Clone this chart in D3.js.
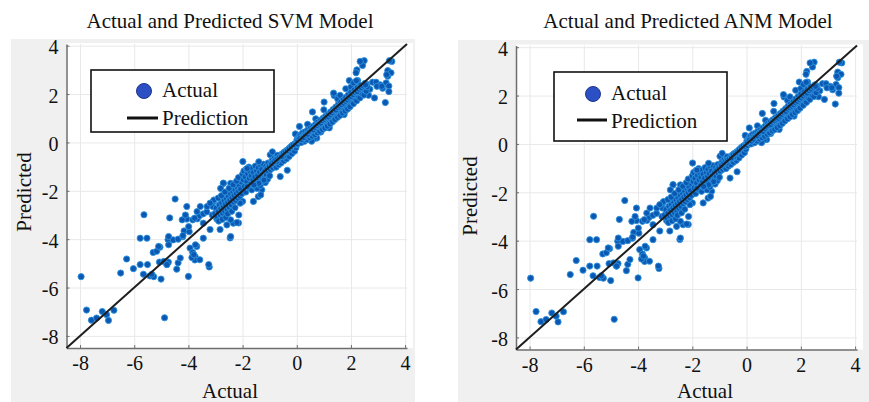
<!DOCTYPE html>
<html>
<head>
<meta charset="utf-8">
<script src="https://cdn.jsdelivr.net/npm/d3@7"></script>
<style>
  body { margin: 0; background: #fff; }
  text { font-family: "Liberation Serif", "Times New Roman", serif; fill: #111; }
</style>
</head>
<body>
<script>
// tick values shared by both axes
var tickValues = [-8, -6, -4, -2, 0, 2, 4];

var titles = ["Actual and Predicted SVM Model", "Actual and Predicted ANM Model"];
var legendLabels = ["Actual", "Prediction"];

// [actual, predicted] (both panels show the same cloud)
var outlierPoints = [
  [-7.96,-5.55],[-7.76,-6.93],[-7.58,-7.35],[-7.39,-7.26],[-7.18,-6.99],[-7.02,-7.12],[-6.95,-7.36],[-6.75,-6.94],[-4.88,-7.25],
  [-6.5,-5.4],[-6.28,-4.82],[-6.03,-5.22],[-5.78,-5.05],[-5.64,-2.99],[-5.78,-3.96],[-5.53,-3.96],[-5.66,-5.45],[-5.51,-5.05],
  [-5.42,-5.52],[-5.28,-5.55],[-5.3,-4.55],[-5.17,-4.5],[-5.05,-4.33],[-5.07,-4.95],[-5.35,-5.45],[-5.01,-5.65],[-4.8,-5.05],
  [-4.69,-3.12],[-4.75,-4.02],[-4.56,-4.03],[-4.38,-4.0],[-4.49,-2.34],[-4.43,-5.24],[-4.38,-4.98],[-4.74,-4.95],[-4.21,-3.9],
  [-4.16,-3.66],[-4.0,-5.54],[-4.06,-2.65],[-4.06,-3.17],[-3.97,-3.69],[-3.94,-4.37],[-3.84,-4.55],[-3.75,-4.72],[-3.76,-4.86],
  [-3.87,-4.76],[-3.69,-4.3],[-3.84,-3.2],[-3.67,-3.16],[-3.59,-3.03],[-3.45,-3.34],[-3.45,-3.96],[-3.23,-5.15],[-3.45,-2.95],
  [-3.32,-2.87],[-3.1,-2.65],[-2.95,-2.81],[-2.71,-1.7],[-3.08,-2.44],[-2.95,-3.17],[-3.2,-3.6],[-2.83,-3.6],[-2.58,-3.41],
  [-2.46,-3.95],[-2.34,-3.34],[-2.15,-3.33],[-1.99,-0.79],[-1.6,-2.44],[-2.0,-2.44],
  [-3.77,-3.13],[-3.68,-2.86],[-3.56,-2.65],[-3.31,-2.65],[-3.12,-3.0],[-3.06,-2.38],[-4.73,-3.89],[-4.2,-3.85],
  [-4.73,-4.23],[-5.1,-4.3],[-4.91,-4.92],[-4.79,-5.05],[-4.3,-4.78],[-3.74,-4.23],[-3.8,-4.64],[-3.58,-4.85],[-3.25,-5.05],
  [-4.23,-3.2],[-4.11,-3.0],[-3.99,-3.48],
  [-2.44,-1.69],[-2.81,-1.9],[-2.32,-2.31],[-2.14,-3.0],[-2.44,-3.2],[-2.44,-3.89],[-2.81,-2.86],[-2.21,-3.31],[-3.2,-2.51],
  [-2.71,-1.68],[-2.28,-2.09],[-2.09,-2.51],[-2.46,-2.65],[-1.29,-1.96],[-1.42,-2.24],[-1.33,-2.17],[-1.95,-2.04],
  [-0.61,-1.41],[-0.35,-1.15],[-0.98,-0.51],[-0.9,-0.39],[-1.48,-0.99],
  [0.1,0.66],[-0.05,0.35],[0.74,0.45],[0.74,0.18],[0.58,1.26],[0.7,0.98],[0.89,0.43],[0.64,0.16],[1.01,1.67],
  [1.38,1.94],[1.51,1.8],[1.36,2.04],[1.81,2.22],[2.0,2.29],[1.94,2.56],[2.25,2.56],[2.1,2.46],
  [2.49,3.38],[2.43,3.18],[2.22,3.0],[2.34,3.35],[3.36,2.97],[3.51,3.35],[3.42,3.38],[3.48,2.88],[3.36,2.74],[3.32,2.8],
  [3.3,2.46],[3.4,2.33],[3.4,2.1],[3.27,1.65],[2.87,1.84],[2.59,2.4],[2.8,2.49],[2.93,2.49],[3.09,2.38],[3.17,2.24],
  [2.96,2.32],[3.14,2.32],[2.19,2.88],
  [0.55,0.05],[1.2,0.6],[1.75,1.15],[0.4,0.75],[1.0,1.35],[1.6,1.95],[2.2,2.55],[2.7,2.2],[2.65,1.95]
];

var bandPoints = [
  [-3.02,-2.95],[-2.97,-2.72],[-2.93,-3.08],[-2.9,-2.86],[-2.86,-2.58],[-2.83,-2.98],[-2.8,-2.74],[-2.77,-2.5],[-2.74,-2.92],
  [-2.71,-2.66],[-2.68,-2.42],[-2.66,-2.84],[-2.63,-2.55],[-2.6,-2.31],[-2.57,-2.78],[-2.55,-2.47],[-2.52,-2.22],[-2.5,-2.66],
  [-2.47,-2.38],[-2.44,-2.12],[-2.42,-2.58],[-2.39,-2.29],[-2.36,-2.04],[-2.33,-2.47],[-2.31,-2.2],[-2.28,-1.96],[-2.26,-2.39],
  [-2.23,-2.11],[-2.2,-1.85],[-2.18,-2.3],[-2.15,-2.02],[-2.12,-1.76],[-2.1,-2.22],[-2.07,-1.93],[-2.05,-1.63],[-2.03,-2.12],
  [-2.88,-3.25],[-2.75,-3.18],[-2.62,-3.1],[-2.55,-2.95],[-2.4,-2.85],[-2.28,-2.7],[-2.9,-2.3],[-2.78,-2.2],[-2.65,-2.05],
  [-2.5,-1.9],[-2.35,-1.75],[-2.22,-1.6],[-2.15,-1.45],
  [-2.0,-1.32],[-1.97,-1.55],[-1.95,-1.18],[-1.93,-1.82],[-1.9,-1.42],[-1.88,-2.05],[-1.86,-1.1],[-1.84,-1.62],[-1.81,-1.3],
  [-1.79,-1.88],[-1.77,-1.02],[-1.75,-1.48],[-1.72,-1.2],[-1.7,-1.72],[-1.68,-1.38],[-1.66,-1.96],[-1.64,-1.08],[-1.62,-1.55],
  [-1.6,-1.25],[-1.57,-1.8],[-1.55,-1.42],[-1.53,-0.98],[-1.5,-1.62],[-1.48,-1.18],[-1.46,-1.9],[-1.44,-1.35],[-1.42,-1.05],
  [-1.4,-1.55],[-1.37,-1.22],[-1.35,-1.78],[-1.33,-0.95],[-1.31,-1.42],[-1.29,-1.12],[-1.27,-1.6],[-1.25,-1.3],[-1.23,-0.9],
  [-1.2,-1.48],[-1.18,-1.18],[-1.16,-1.66],[-1.14,-0.98],[-1.12,-1.35],[-1.1,-1.08],[-1.08,-1.52],[-1.06,-0.85],[-1.04,-1.22],
  [-1.02,-0.98],[-1.0,-1.38],[-1.21,-1.56],[-1.4,-1.69],[-1.58,-1.76],[-1.83,-1.83],[-1.83,-1.08],[-1.4,-0.8],
  [-0.97,-1.12],[-0.95,-0.82],[-0.93,-0.98],[-0.9,-0.72],[-0.88,-1.05],[-0.86,-0.88],[-0.83,-0.66],[-0.81,-0.95],[-0.79,-0.78],
  [-0.76,-1.02],[-0.74,-0.62],[-0.72,-0.86],[-0.69,-0.7],[-0.67,-0.92],[-0.65,-0.55],[-0.62,-0.78],[-0.6,-0.62],[-0.58,-0.85],
  [-0.55,-0.48],[-0.53,-0.7],[-0.5,-0.55],[-0.48,-0.76],[-0.46,-0.4],[-0.43,-0.62],[-0.41,-0.48],[-0.38,-0.68],[-0.36,-0.32],
  [-0.33,-0.52],[-0.31,-0.38],[-0.28,-0.58],[-0.26,-0.22],[-0.23,-0.42],[-0.21,-0.28],[-0.18,-0.46],[-0.16,-0.12],[-0.13,-0.32],
  [-0.11,-0.18],[-0.08,-0.36],[-0.06,-0.04],[-0.03,-0.22],[-0.01,-0.08],[-0.74,-0.79],[-0.49,-0.58],[-0.47,-0.53],[-0.72,-0.53],
  [-0.92,-0.88],[-0.84,-0.78],[-0.77,-0.7],[-0.7,-0.66],[-0.63,-0.6],[-0.56,-0.58],[-0.49,-0.44],[-0.42,-0.38],[-0.35,-0.34],
  [-0.28,-0.26],[-0.2,-0.16],[-0.13,-0.1],[-0.05,-0.1],
  [0.01,0.12],[0.03,-0.06],[0.06,0.2],[0.08,0.04],[0.1,0.28],[0.13,0.08],[0.15,0.32],[0.17,0.0],[0.2,0.22],[0.22,0.4],
  [0.24,0.1],[0.27,0.3],[0.29,0.05],[0.31,0.44],[0.34,0.2],[0.36,0.36],[0.38,0.12],[0.41,0.52],[0.43,0.28],[0.45,0.42],
  [0.48,0.2],[0.5,0.58],[0.52,0.34],[0.55,0.48],[0.57,0.26],[0.6,0.66],[0.62,0.4],[0.64,0.56],[0.67,0.32],[0.69,0.74],
  [0.71,0.48],[0.74,0.62],[0.76,0.4],[0.78,0.84],[0.81,0.55],[0.83,0.7],[0.85,0.46],[0.88,0.92],[0.9,0.62],[0.92,0.78],
  [0.95,0.54],[0.97,1.0],[0.99,0.7],[1.02,0.86],[1.04,0.6],[1.06,1.08],[1.09,0.78],[1.11,0.94],[1.13,0.68],[1.16,1.16],
  [1.18,0.88],[1.2,1.02],[1.23,0.76],[1.25,1.26],[1.27,0.96],[1.3,1.1],[1.32,0.85],[1.34,1.36],[1.37,1.05],[1.39,1.2],
  [1.41,0.95],[1.44,1.46],[1.46,1.14],[1.48,1.3],[1.51,1.04],[1.53,1.56],[1.55,1.22],[1.58,1.4],[1.6,1.12],[1.62,1.66],
  [1.65,1.32],[1.67,1.5],[1.69,1.22],[1.72,1.76],[1.74,1.42],[1.76,1.58],[1.79,1.3],[1.81,1.86],[1.83,1.5],[1.86,1.68],
  [1.88,1.38],[1.9,1.96],[1.93,1.58],[1.95,1.78],[1.97,1.48],[2.0,2.06],[2.03,1.68],[2.06,1.88],[2.09,1.6],[2.12,2.16],
  [2.15,1.8],[2.18,1.98],[2.21,1.72],[2.24,2.26],[2.27,1.9],[2.3,2.1],[2.33,1.84],[2.36,2.36],[2.4,2.02],[2.44,2.2],
  [2.48,1.96],[2.52,2.44],[2.56,2.12],[2.6,2.3],
  [0.04,0.08],[0.11,0.16],[0.19,0.12],[0.26,0.2],[0.33,0.3],[0.4,0.34],[0.47,0.44],[0.54,0.5],[0.61,0.52],[0.68,0.62],
  [0.75,0.7],[0.82,0.76],[0.89,0.8],[0.96,0.9],[1.03,0.96],[1.1,1.02],[1.17,1.06],[1.24,1.14],[1.31,1.22],[1.38,1.3],
  [1.45,1.34],[1.52,1.44],[1.59,1.5],[1.66,1.56],[1.73,1.62],[1.8,1.7],[1.87,1.76],[1.94,1.84],[2.01,1.9],[2.08,1.98],
  [2.16,2.06],[2.23,2.1],[2.31,2.2],[2.38,2.26],[2.46,2.34],[2.54,2.38]
];

var points = outlierPoints.concat(bandPoints);

// panel placement
var panels = [
  {title: titles[0], x0: 66.5, x1: 407, y0: 348, y1: 44, bg: [11, 39, 415, 402], titleX: 230,
   legend: {x: 91, y: 70, w: 183, h: 62, mx: 144, my: 91, lx0: 127, lx1: 158, ly: 118, tx: 162, t1: 97, t2: 125},
   ylabX: 31, ylabY: 192, xlabX: 230},
  {title: titles[1], x0: 516, x1: 857, y0: 349.5, y1: 45.5, bg: [458, 40, 869, 402], titleX: 688,
   legend: {x: 554, y: 72, w: 173, h: 69, mx: 593, my: 94, lx0: 577, lx1: 607, ly: 120, tx: 611, t1: 100, t2: 128},
   ylabX: 477, ylabY: 196, xlabX: 705}
];

var svg = d3.select("body").append("svg")
    .attr("width", 869)
    .attr("height", 402);

panels.forEach(function(p) {
  var x = d3.scaleLinear().domain([-8.5, 4.07]).range([p.x0, p.x1]);
  var y = d3.scaleLinear().domain([-8.5, 4.07]).range([p.y0, p.y1]);

  var g = svg.append("g");

  g.append("rect")
      .attr("x", p.bg[0]).attr("y", p.bg[1])
      .attr("width", p.bg[2] - p.bg[0]).attr("height", p.bg[3] - p.bg[1])
      .attr("fill", "#f0f0f0");

  g.append("rect")
      .attr("x", p.x0).attr("y", p.y1 - 1)
      .attr("width", p.x1 - p.x0 + 6).attr("height", p.y0 - p.y1 + 1)
      .attr("fill", "#fff");

  // grid
  g.append("g")
      .attr("transform", "translate(0," + p.y0 + ")")
      .call(d3.axisBottom(x).tickValues(tickValues).tickSize(-(p.y0 - p.y1)).tickFormat(""))
      .call(function(s) { s.select(".domain").remove(); s.selectAll("line").attr("stroke", "#e8e8e8"); });
  g.append("g")
      .attr("transform", "translate(" + p.x0 + ",0)")
      .call(d3.axisLeft(y).tickValues(tickValues).tickSize(-(p.x1 - p.x0)).tickFormat(""))
      .call(function(s) { s.select(".domain").remove(); s.selectAll("line").attr("stroke", "#e8e8e8"); });

  // axes (plain hyphen for negatives, as in the figure)
  var fmt = function(d) { return String(d); };
  var xAxis = g.append("g")
      .attr("transform", "translate(0," + p.y0 + ")")
      .call(d3.axisBottom(x).tickValues(tickValues).tickFormat(fmt).tickSizeInner(-3).tickSizeOuter(0).tickPadding(8));
  var yAxis = g.append("g")
      .attr("transform", "translate(" + p.x0 + ",0)")
      .call(d3.axisLeft(y).tickValues(tickValues).tickFormat(fmt).tickSizeInner(-3).tickSizeOuter(0).tickPadding(8));
  [xAxis, yAxis].forEach(function(a) {
    a.select(".domain").attr("stroke", "#6e6e6e").attr("stroke-width", 1.5);
    a.selectAll(".tick line").attr("stroke", "#6e6e6e");
    a.selectAll(".tick text").attr("font-size", 20).attr("font-family", "Liberation Serif").attr("fill", "#111");
  });
  yAxis.selectAll(".tick text").attr("dy", "0.4em");

  // points
  g.append("g").selectAll("circle")
      .data(points)
      .join("circle")
      .attr("cx", function(d) { return x(d[0]); })
      .attr("cy", function(d) { return y(d[1]); })
      .attr("r", 3.1)
      .attr("fill", "#0a58b2")
      .attr("stroke", "#2f92dc")
      .attr("stroke-width", 0.9);

  // prediction line
  g.append("line")
      .attr("x1", x(-8.5)).attr("y1", y(-8.5))
      .attr("x2", x(4.07)).attr("y2", y(4.07))
      .attr("stroke", "#1e1e1e")
      .attr("stroke-width", 2);

  // legend
  var L = p.legend;
  g.append("rect")
      .attr("x", L.x).attr("y", L.y).attr("width", L.w).attr("height", L.h)
      .attr("fill", "#fff").attr("stroke", "#111").attr("stroke-width", 1.6);
  g.append("circle")
      .attr("cx", L.mx).attr("cy", L.my).attr("r", 7.5)
      .attr("fill", "#2c4fc4").attr("stroke", "#1d3590").attr("stroke-width", 1);
  g.append("line")
      .attr("x1", L.lx0).attr("x2", L.lx1).attr("y1", L.ly).attr("y2", L.ly)
      .attr("stroke", "#111").attr("stroke-width", 3);
  g.append("text").attr("x", L.tx).attr("y", L.t1).attr("font-size", 21).text(legendLabels[0]);
  g.append("text").attr("x", L.tx).attr("y", L.t2).attr("font-size", 21).text(legendLabels[1]);

  // titles and axis labels
  g.append("text")
      .attr("x", p.titleX).attr("y", 28)
      .attr("text-anchor", "middle").attr("font-size", 21)
      .text(p.title);
  g.append("text")
      .attr("x", p.xlabX).attr("y", 398)
      .attr("text-anchor", "middle").attr("font-size", 21)
      .text("Actual");
  g.append("text")
      .attr("transform", "translate(" + p.ylabX + "," + p.ylabY + ") rotate(-90)")
      .attr("text-anchor", "middle").attr("font-size", 21)
      .text("Predicted");
});
</script>
</body>
</html>
